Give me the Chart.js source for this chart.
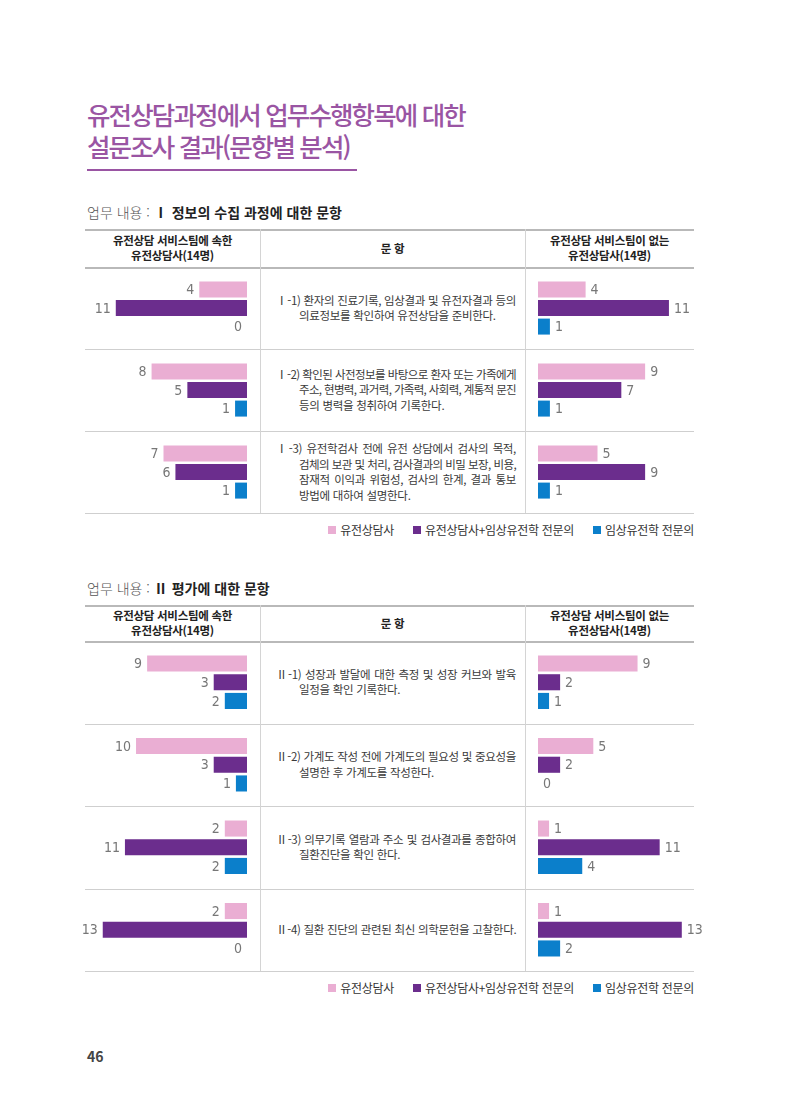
<!DOCTYPE html>
<html lang="ko">
<head>
<meta charset="utf-8">
<title>유전상담과정에서 업무수행항목에 대한 설문조사 결과</title>
<script src="https://cdn.jsdelivr.net/npm/chart.js@4.4.1/dist/chart.umd.min.js"></script>
<style>
  html, body { margin: 0; padding: 0; background: #fff; }
  body { width: 800px; height: 1106px; position: relative; overflow: hidden;
         font-family: "Noto Sans CJK KR", "Noto Sans", sans-serif; color: #333; }
  .abs { position: absolute; }
  .title { left: 87px; top: 98px; font-size: 25.5px; line-height: 32px; color: #9a55a3; font-weight: 500; letter-spacing: -1.85px; }
  .title-rule { left: 87px; top: 169px; width: 270px; height: 2px; background: #9a55a3; }
  .sec-head { left: 87px; font-size: 14px; line-height: 18px; color: #555; font-weight: 300; }
  .sec-head b { color: #222; font-weight: 700; }
  .hline { left: 85px; width: 609px; height: 1px; background: #cfcfcf; }
  .hline.strong { background: #b9b9b9; height: 1.5px; }
  .vline { width: 1px; background: #d4d4d4; }
  .th { font-size: 11.5px; line-height: 15px; font-weight: 700; color: #222; text-align: center; display: flex; align-items: center; justify-content: center; letter-spacing: -0.3px; }
  .item { left: 276px; width: 240px; font-size: 11.5px; line-height: 15.5px; color: #3a3a3a; display: flex; flex-direction: column; justify-content: center; letter-spacing: -0.3px; }
  .item .ln { white-space: nowrap; }
  .item .ln.just { text-align: justify; text-align-last: justify; }
  .item .ln.cont { padding-left: 23px; }
  .legend { right: 106px; font-size: 12px; line-height: 16px; color: #333; display: flex; gap: 19px; white-space: nowrap; letter-spacing: -0.3px; }
  .legend span { display: inline-flex; align-items: center; }
  .legend i { display: inline-block; width: 8px; height: 8px; margin-right: 4px; }
  .page { left: 87px; top: 1046px; font-size: 14px; font-weight: 700; color: #444; }
</style>
</head>
<body>

<div class="abs title">유전상담과정에서 업무수행항목에 대한<br>설문조사 결과(문항별 분석)</div>
<div class="abs title-rule"></div>

<div id="sections"></div>

<div class="abs page">46</div>

<script>
// ---------------------------------------------
// 데이터
// ---------------------------------------------
const seriesLabels = ['유전상담사', '유전상담사+임상유전학 전문의', '임상유전학 전문의'];
const seriesColors = ['#eaaed3', '#6b2d8d', '#0b7fcb'];

// 업무 내용 I
const items1 = ['Ⅰ-1', 'Ⅰ-2', 'Ⅰ-3'];
const teamCounsel1 = [4, 8, 7];
const teamBoth1 = [11, 5, 6];
const teamClinic1 = [0, 1, 1];
const noTeamCounsel1 = [4, 9, 5];
const noTeamBoth1 = [11, 7, 9];
const noTeamClinic1 = [1, 1, 1];
const itemText1 = [
  ['Ⅰ-1) 환자의 진료기록, 임상결과 및 유전자결과 등의', '의료정보를 확인하여 유전상담을 준비한다.'],
  ['Ⅰ-2) 확인된 사전정보를 바탕으로 환자 또는 가족에게', '주소, 현병력, 과거력, 가족력, 사회력, 계통적 문진', '등의 병력을 청취하여 기록한다.'],
  ['Ⅰ-3) 유전학검사 전에 유전 상담에서 검사의 목적,', '검체의 보관 및 처리, 검사결과의 비밀 보장, 비용,', '잠재적 이익과 위험성, 검사의 한계, 결과 통보', '방법에 대하여 설명한다.']
];

// 업무 내용 II
const items2 = ['Ⅱ-1', 'Ⅱ-2', 'Ⅱ-3', 'Ⅱ-4'];
const teamCounsel2 = [9, 10, 2, 2];
const teamBoth2 = [3, 3, 11, 13];
const teamClinic2 = [2, 1, 2, 0];
const noTeamCounsel2 = [9, 5, 1, 1];
const noTeamBoth2 = [2, 2, 11, 13];
const noTeamClinic2 = [1, 0, 4, 2];
const itemText2 = [
  ['Ⅱ-1) 성장과 발달에 대한 측정 및 성장 커브와 발육', '일정을 확인 기록한다.'],
  ['Ⅱ-2) 가계도 작성 전에 가계도의 필요성 및 중요성을', '설명한 후 가계도를 작성한다.'],
  ['Ⅱ-3) 의무기록 열람과 주소 및 검사결과를 종합하여', '질환진단을 확인 한다.'],
  ['Ⅱ-4) 질환 진단의 관련된 최신 의학문헌을 고찰한다.']
];

// ---------------------------------------------
// 값 라벨 플러그인
// ---------------------------------------------
const valueLabels = {
  id: 'valueLabels',
  afterDatasetsDraw(chart) {
    const ctx = chart.ctx;
    const reversed = chart.options.scales.x.reverse;
    ctx.save();
    ctx.font = "14px 'DejaVu Sans Condensed', 'Liberation Sans Narrow', sans-serif";
    ctx.fillStyle = '#777';
    ctx.textBaseline = 'middle';
    ctx.textAlign = reversed ? 'right' : 'left';
    chart.data.datasets.forEach((ds, i) => {
      chart.getDatasetMeta(i).data.forEach((bar, j) => {
        const x = reversed ? bar.x - 5 : bar.x + 5;
        ctx.fillText(String(ds.data[j]), x, bar.y + 1);
      });
    });
    ctx.restore();
  }
};

function makeChart(canvas, labels, values, max, reverse) {
  return new Chart(canvas, {
    type: 'bar',
    data: {
      labels,
      datasets: values.map((d, i) => ({
        label: seriesLabels[i],
        data: d,
        backgroundColor: seriesColors[i],
        borderWidth: 0,
        barPercentage: 0.86,
        categoryPercentage: 0.68,
      }))
    },
    options: {
      indexAxis: 'y',
      responsive: false,
      animation: false,
      events: [],
      layout: { padding: 0 },
      plugins: { legend: { display: false }, tooltip: { enabled: false } },
      scales: {
        x: { display: false, min: 0, max, reverse },
        y: { display: false }
      }
    },
    plugins: [valueLabels]
  });
}

// ---------------------------------------------
// 섹션 구성
// ---------------------------------------------
function el(cls, style, html) {
  const d = document.createElement('div');
  d.className = 'abs ' + cls;
  Object.assign(d.style, style);
  if (html != null) d.innerHTML = html;
  document.getElementById('sections').appendChild(d);
  return d;
}

function buildSection(cfg) {
  const { headY, top, headBottom, rowH, items, texts, left, right, leftMax, rightMax, head } = cfg;
  const n = items.length;
  const bottom = headBottom + rowH * n;

  el('sec-head', { top: headY + 'px' }, head);

  // 표 선
  el('hline strong', { top: top + 'px' });
  el('hline strong', { top: headBottom + 'px' });
  for (let i = 1; i <= n; i++) el('hline', { top: (headBottom + rowH * i) + 'px' });
  el('vline', { left: '260px', top: top + 'px', height: (bottom - top) + 'px' });
  el('vline', { left: '525px', top: top + 'px', height: (bottom - top) + 'px' });

  // 머리글
  const hh = (headBottom - top) + 'px';
  el('th', { left: '85px', width: '175px', top: top + 'px', height: hh }, '유전상담 서비스팀에 속한<br>유전상담사(14명)');
  el('th', { left: '260px', width: '265px', top: top + 'px', height: hh }, '문 항');
  el('th', { left: '525px', width: '169px', top: top + 'px', height: hh }, '유전상담 서비스팀이 없는<br>유전상담사(14명)');

  // 문항 텍스트
  texts.forEach((lines, i) => {
    const html = lines.map((t, k) => {
      const cls = ['ln'];
      if (k > 0) cls.push('cont');
      if (k < lines.length - 1) cls.push('just');
      return `<div class="${cls.join(' ')}"><span>${t}</span></div>`;
    }).join('');
    el('item', { top: (headBottom + rowH * i) + 'px', height: rowH + 'px' }, html);
  });

  // 차트
  const h = rowH * n;
  const lc = document.createElement('canvas');
  lc.width = 167; lc.height = h;
  lc.className = 'abs';
  Object.assign(lc.style, { left: '80px', top: headBottom + 'px' });
  document.getElementById('sections').appendChild(lc);
  makeChart(lc, items, left, leftMax, true);

  const rc = document.createElement('canvas');
  rc.width = 172; rc.height = h;
  rc.className = 'abs';
  Object.assign(rc.style, { left: '538px', top: headBottom + 'px' });
  document.getElementById('sections').appendChild(rc);
  makeChart(rc, items, right, rightMax, false);

  // 범례
  el('legend', { top: (bottom + 9) + 'px' },
    seriesLabels.map((s, i) => `<span><i style="background:${seriesColors[i]}"></i>${s}</span>`).join(''));
}

buildSection({
  head: '업무 내용 : <b>Ⅰ 정보의 수집 과정에 대한 문항</b>',
  headY: 203, top: 229, headBottom: 267, rowH: 82,
  items: items1, texts: itemText1,
  left: [teamCounsel1, teamBoth1, teamClinic1],
  right: [noTeamCounsel1, noTeamBoth1, noTeamClinic1],
  leftMax: 14.0, rightMax: 14.45
});

buildSection({
  head: '업무 내용 : <b>Ⅱ 평가에 대한 문항</b>',
  headY: 579, top: 605, headBottom: 641, rowH: 82.5,
  items: items2, texts: itemText2,
  left: [teamCounsel2, teamBoth2, teamClinic2],
  right: [noTeamCounsel2, noTeamBoth2, noTeamClinic2],
  leftMax: 15.05, rightMax: 15.55
});

// 양쪽 정렬 줄: 넘치면 자간을 줄이고, 남으면 단어 간격으로 채움
document.querySelectorAll('.item .ln.just').forEach(ln => {
  const span = ln.querySelector('span');
  const cs = getComputedStyle(ln);
  const target = ln.clientWidth - parseFloat(cs.paddingLeft) - 1;
  const natural = span.getBoundingClientRect().width;
  const chars = span.textContent.length;
  if (natural > target) {
    const ls = parseFloat(cs.letterSpacing) || 0;
    span.style.letterSpacing = (ls + (target - natural) / chars) + 'px';
  }
  ln.style.whiteSpace = 'normal';
});
</script>
</body>
</html>
